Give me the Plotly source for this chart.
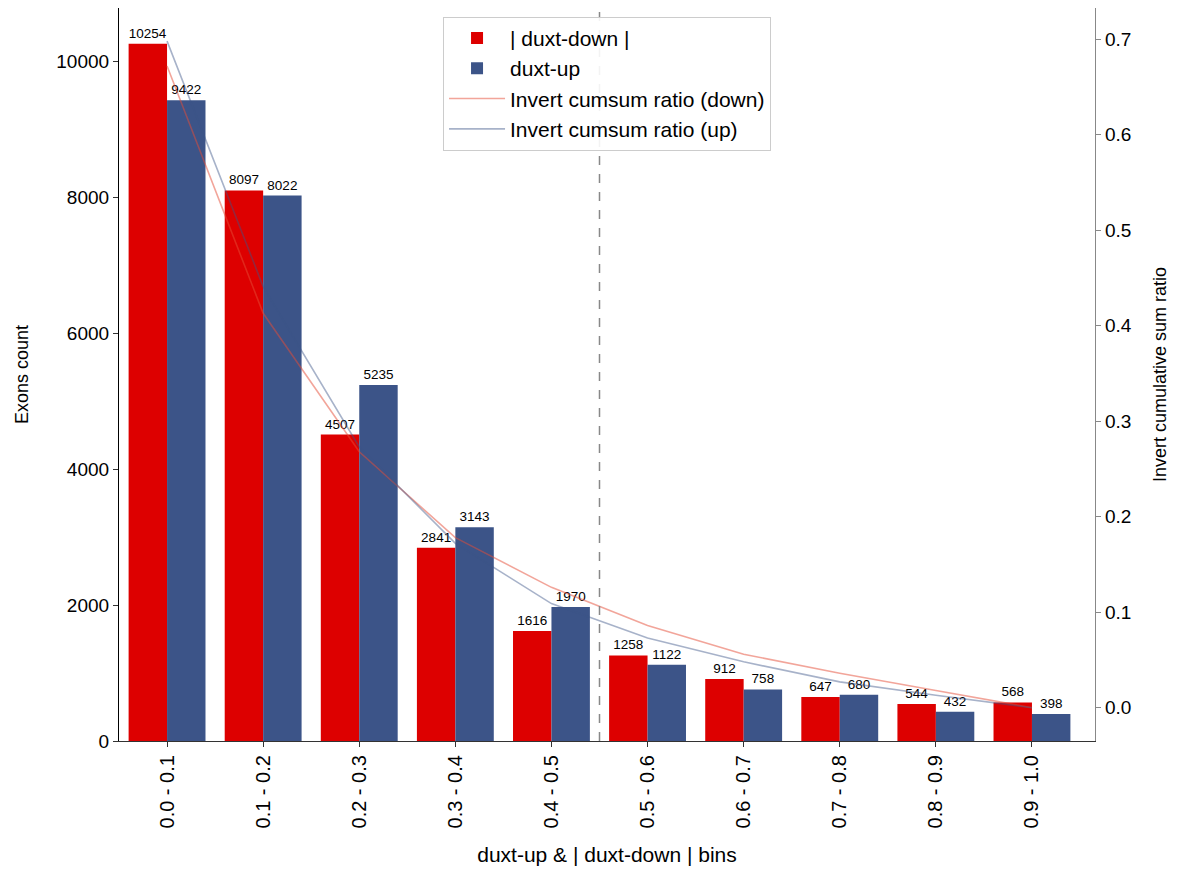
import plotly.graph_objects as go

bins = ["0.0 - 0.1", "0.1 - 0.2", "0.2 - 0.3", "0.3 - 0.4", "0.4 - 0.5",
        "0.5 - 0.6", "0.6 - 0.7", "0.7 - 0.8", "0.8 - 0.9", "0.9 - 1.0"]
down_counts = [10254, 8097, 4507, 2841, 1616, 1258, 912, 647, 544, 568]
up_counts = [9422, 8022, 5235, 3143, 1970, 1122, 758, 680, 432, 398]
down_ratio = [0.672, 0.413, 0.268, 0.178, 0.126, 0.086, 0.056, 0.036, 0.018, 0.0]
up_ratio = [0.698, 0.441, 0.273, 0.172, 0.109, 0.073, 0.048, 0.027, 0.013, 0.0]

FONT = "Liberation Sans, Arial, sans-serif"
xs = list(range(len(bins)))

fig = go.Figure()
fig.add_trace(go.Bar(
    x=xs, y=down_counts, name="| duxt-down |",
    marker=dict(color="#DD0000", line=dict(width=0)),
    text=[str(v) for v in down_counts], textposition="outside",
    textfont=dict(size=13.5, color="black", family=FONT),
    constraintext="none", cliponaxis=False,
))
fig.add_trace(go.Bar(
    x=xs, y=up_counts, name="duxt-up",
    marker=dict(color="#3C5488", line=dict(width=0)),
    text=[str(v) for v in up_counts], textposition="outside",
    textfont=dict(size=13.5, color="black", family=FONT),
    constraintext="none", cliponaxis=False,
))
fig.add_trace(go.Scatter(
    x=xs, y=down_ratio, name="Invert cumsum ratio (down)", yaxis="y2",
    mode="lines", line=dict(color="rgba(230,75,53,0.5)", width=1.6),
))
fig.add_trace(go.Scatter(
    x=xs, y=up_ratio, name="Invert cumsum ratio (up)", yaxis="y2",
    mode="lines", line=dict(color="rgba(60,84,136,0.45)", width=1.6),
))

fig.add_shape(type="line", xref="x", yref="paper", x0=4.5, x1=4.5, y0=0, y1=1,
              line=dict(color="#888888", width=1.5, dash="dash"))

fig.update_layout(
    width=1178, height=870,
    margin=dict(l=111, r=91, t=0, b=137),
    paper_bgcolor="white", plot_bgcolor="white",
    font=dict(family=FONT, color="black"),
    barmode="group", bargap=0.2, bargroupgap=0,
    showlegend=True,
    legend=dict(
        x=0.332, y=0.988, xanchor="left", yanchor="top",
        font=dict(size=21, family=FONT), bgcolor="rgba(255,255,255,0.9)",
        bordercolor="#cccccc", borderwidth=1, traceorder="normal",
        tracegroupgap=0, itemwidth=56,
    ),
    xaxis=dict(
        range=[-0.5, 9.656], tickmode="array", tickvals=xs, ticktext=bins,
        tickangle=-90, tickfont=dict(size=20, family=FONT),
        showline=True, linecolor="#333333", linewidth=1.2,
        ticks="outside", ticklen=5, tickcolor="#333333",
        showgrid=False, zeroline=False,
        title=dict(text="duxt-up & | duxt-down | bins", font=dict(size=21, family=FONT), standoff=19),
    ),
    yaxis=dict(
        range=[0, 10780], tickmode="array", tickvals=[0, 2000, 4000, 6000, 8000, 10000],
        tickformat="d", tickfont=dict(size=19, family=FONT),
        showline=True, linecolor="black", linewidth=1.2,
        ticks="outside", ticklen=5, tickcolor="#333333",
        showgrid=False, zeroline=False,
        title=dict(text="Exons count", font=dict(size=18, family=FONT), standoff=22),
    ),
    yaxis2=dict(
        overlaying="y", side="right", anchor="x",
        range=[-0.0349, 0.7327], tickmode="array",
        tickvals=[0.0, 0.1, 0.2, 0.3, 0.4, 0.5, 0.6, 0.7], tickformat=".1f",
        tickfont=dict(size=19, family=FONT),
        showline=True, linecolor="#888888", linewidth=1.2,
        ticks="outside", ticklen=5, tickcolor="#888888",
        showgrid=False, zeroline=False,
        title=dict(text="Invert cumulative sum ratio", font=dict(size=18, family=FONT), standoff=22),
    ),
)

fig.write_html("out.html")
